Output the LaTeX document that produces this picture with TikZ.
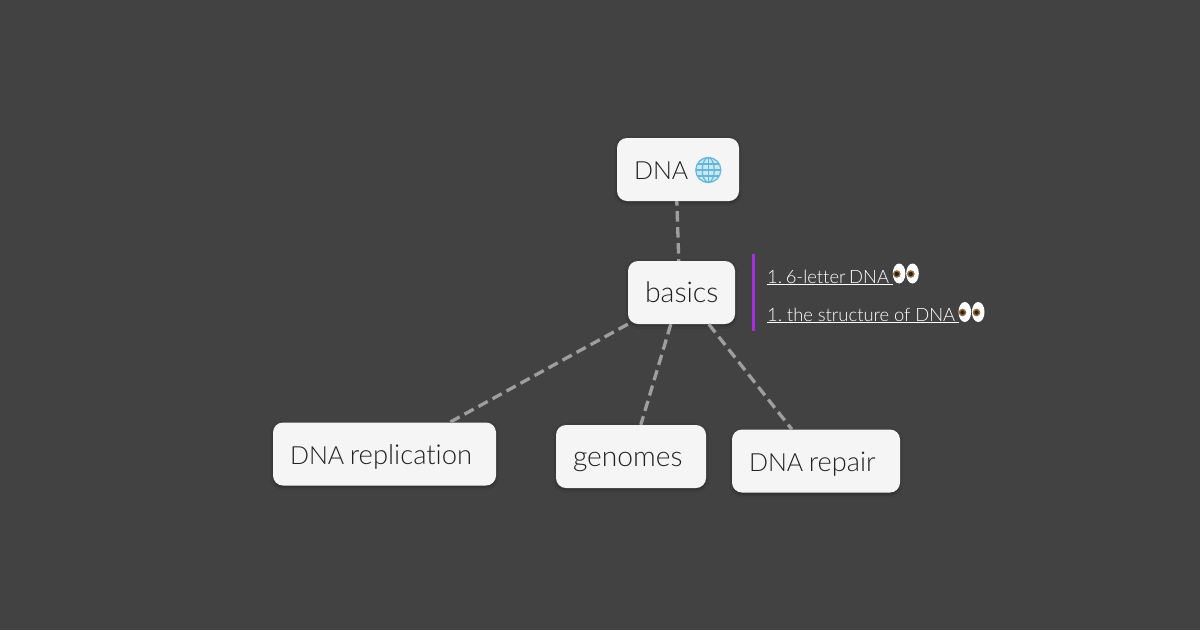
\documentclass[tikz,border=0pt]{standalone}
\usepackage{fontspec}
\setmainfont{Lato Light}[Ligatures=NoCommon]
\usetikzlibrary{calc,shadows.blur}
\definecolor{bgc}{HTML}{424242}
\definecolor{boxc}{HTML}{F5F5F5}
\definecolor{inkc}{HTML}{212121}
\definecolor{linkc}{HTML}{9E9E9E}
\definecolor{barc}{HTML}{A52EE0}
\definecolor{globec}{HTML}{5FB8DE}
\definecolor{globef}{HTML}{CDE8F5}
\newcommand{\fsz}[1]{\fontsize{#1}{30}\selectfont}
\tikzset{
  box/.style={draw=none,fill=boxc,rounded corners=10pt,inner xsep=17pt,inner ysep=0pt,
    minimum height=63pt,align=left,text=inkc,font=\fontsize{27}{30}\selectfont,
    text height=26pt,text depth=6pt,execute at begin node={\frenchspacing\spaceskip=5.5pt\relax},
    blur shadow={shadow blur steps=6,shadow xshift=0pt,shadow yshift=-1.5pt,shadow blur radius=3pt,shadow opacity=35}},
  conn/.style={draw=linkc,line width=3.3pt,dash pattern=on 10.5pt off 5.5pt},
  note/.style={inner sep=0pt,anchor=base west,text=white,font=\fontsize{18.4}{22}\selectfont,
    execute at begin node={\frenchspacing\spaceskip=3.6pt\relax}},
  eyewhite/.style={fill=white,draw=none},
  glb/.style={draw=globec,line width=1.2pt}
}
\newcommand{\eyepair}[2]{%
  \begin{scope}[shift={(#1,#2)}]
    \fill[eyewhite] (-6.7,0) ellipse (6.3pt and 10pt);
    \fill[eyewhite] (6.7,0) ellipse (6.3pt and 10pt);
    \fill[brown!85!black] (-9,0.5) circle (3.8pt);
    \fill[brown!85!black] (5,0.5) circle (3.8pt);
    \fill[black!85] (-9,0.5) circle (2.2pt);
    \fill[black!85] (5,0.5) circle (2.2pt);
  \end{scope}}
\begin{document}
\begin{tikzpicture}[x=1pt,y=-1pt]
\useasboundingbox[fill=bgc] (0,0) rectangle (1200,630);
\node[box,minimum width=122pt,text width=88pt] (dna) at (678,169.5) {\fsz{25}DNA};
\node[box,minimum width=107pt,text width=73pt] (basics) at (681.5,292.5) {\fsz{28.5}basics};
\node[box,minimum width=223pt,text width=189pt] (rep) at (384.5,454) {\fsz{25}DNA \fsz{27.4}replication};
\node[box,minimum width=150pt,text width=116pt] (gen) at (631,456.5) {\fsz{28.2}genomes};
\node[box,minimum width=168pt,text width=134pt] (repair) at (816,461) {\fsz{25}DNA \fsz{27.2}repair};
\draw[conn,dash phase=6pt] ($(dna.south west)+(60,0)$) -- ($(basics.north west)+(51,0)$);
\draw[conn] (basics.south west) -- ($(rep.north west)+(177,0)$);
\draw[conn] ($(basics.south west)+(43,0)$) -- ($(gen.north west)+(85,0)$);
\draw[conn] ($(basics.south west)+(81,0)$) -- ($(repair.north west)+(60,0)$);
% globe
\begin{scope}[shift={(708.3,170)}]
  \fill[globef] (0,0) circle (13pt);
  \draw[glb] (0,0) circle (12.5pt);
  \draw[glb] (0,0) ellipse (6pt and 12.5pt);
  \draw[glb] (0,-12.5) -- (0,12.5);
  \draw[glb] (-12.5,0) -- (12.5,0);
  \draw[glb] (-11,-6) -- (11,-6);
  \draw[glb] (-11,6) -- (11,6);
\end{scope}
% side bar and notes
\coordinate (bartop) at (753.5,254);
\coordinate (barbot) at (753.5,331);
\draw[barc,line width=3pt] (bartop) -- (barbot);
\node[note] (n1) at (767,283) {\underline{1. 6-letter DNA\kern4pt}};
\node[note] (n2) at (767,321) {\spaceskip=4.8pt\relax\underline{1. the structure of DNA\kern4pt}};
\eyepair{905.8}{273.5}
\eyepair{971.5}{312}
\end{tikzpicture}
\end{document}
